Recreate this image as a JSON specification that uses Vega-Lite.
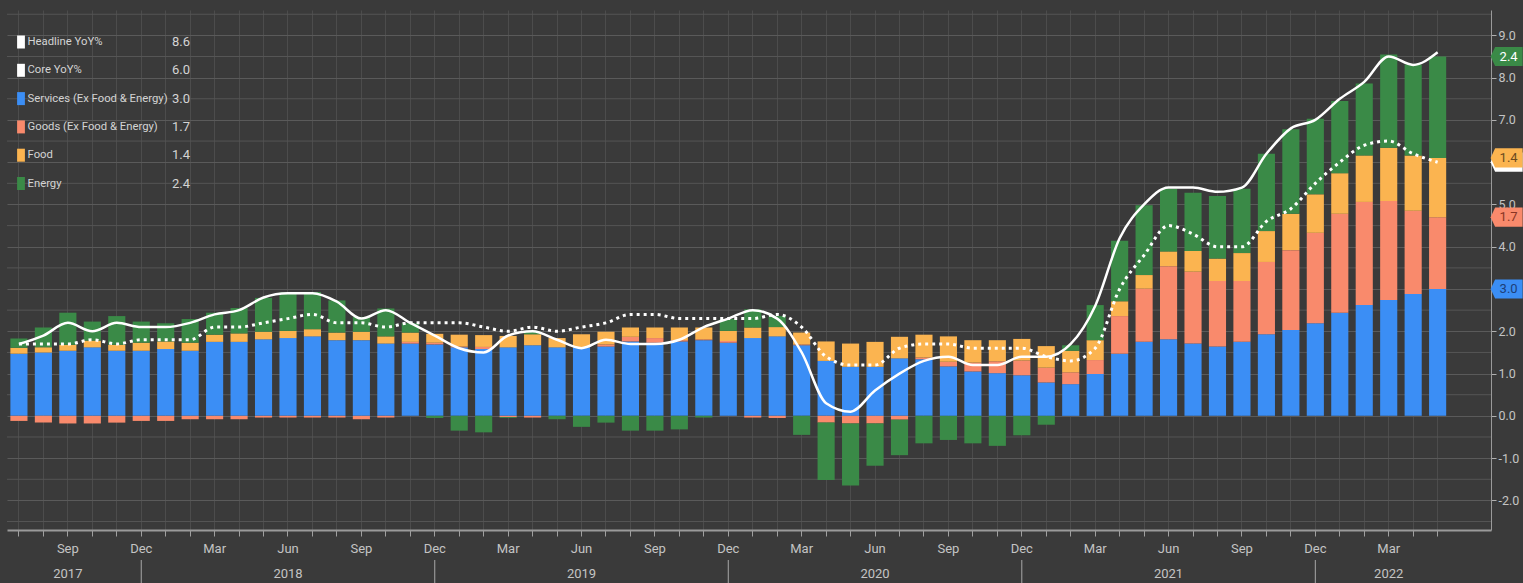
{
  "$schema": "https://vega.github.io/schema/vega-lite/v6.json",
  "width": 1484,
  "height": 520,
  "autosize": {"type": "none"},
  "padding": {"left": 7, "top": 10, "right": 32, "bottom": 53},
  "background": "#3a3a3a",
  "datasets": {
    "cpi": [
      {"m": "2017-07", "Services": 1.47, "Goods": -0.12, "Food": 0.14, "Energy": 0.22, "Headline": 1.7, "Core": 1.7},
      {"m": "2017-08", "Services": 1.50, "Goods": -0.16, "Food": 0.12, "Energy": 0.47, "Headline": 1.9, "Core": 1.7},
      {"m": "2017-09", "Services": 1.54, "Goods": -0.18, "Food": 0.14, "Energy": 0.76, "Headline": 2.2, "Core": 1.7},
      {"m": "2017-10", "Services": 1.62, "Goods": -0.18, "Food": 0.16, "Energy": 0.45, "Headline": 2.0, "Core": 1.8},
      {"m": "2017-11", "Services": 1.54, "Goods": -0.16, "Food": 0.14, "Energy": 0.68, "Headline": 2.2, "Core": 1.7},
      {"m": "2017-12", "Services": 1.54, "Goods": -0.12, "Food": 0.19, "Energy": 0.50, "Headline": 2.1, "Core": 1.8},
      {"m": "2018-01", "Services": 1.58, "Goods": -0.12, "Food": 0.18, "Energy": 0.43, "Headline": 2.1, "Core": 1.8},
      {"m": "2018-02", "Services": 1.54, "Goods": -0.08, "Food": 0.19, "Energy": 0.56, "Headline": 2.2, "Core": 1.8},
      {"m": "2018-03", "Services": 1.75, "Goods": -0.08, "Food": 0.17, "Energy": 0.52, "Headline": 2.4, "Core": 2.1},
      {"m": "2018-04", "Services": 1.75, "Goods": -0.08, "Food": 0.20, "Energy": 0.60, "Headline": 2.5, "Core": 2.1},
      {"m": "2018-05", "Services": 1.81, "Goods": -0.04, "Food": 0.18, "Energy": 0.80, "Headline": 2.8, "Core": 2.2},
      {"m": "2018-06", "Services": 1.84, "Goods": -0.04, "Food": 0.17, "Energy": 0.91, "Headline": 2.9, "Core": 2.3},
      {"m": "2018-07", "Services": 1.88, "Goods": -0.04, "Food": 0.17, "Energy": 0.88, "Headline": 2.9, "Core": 2.4},
      {"m": "2018-08", "Services": 1.79, "Goods": -0.04, "Food": 0.18, "Energy": 0.76, "Headline": 2.7, "Core": 2.2},
      {"m": "2018-09", "Services": 1.79, "Goods": -0.08, "Food": 0.20, "Energy": 0.35, "Headline": 2.3, "Core": 2.2},
      {"m": "2018-10", "Services": 1.71, "Goods": -0.04, "Food": 0.17, "Energy": 0.66, "Headline": 2.5, "Core": 2.1},
      {"m": "2018-11", "Services": 1.71, "Goods": 0.04, "Food": 0.22, "Energy": 0.22, "Headline": 2.2, "Core": 2.2},
      {"m": "2018-12", "Services": 1.69, "Goods": 0.04, "Food": 0.21, "Energy": -0.05, "Headline": 1.9, "Core": 2.2},
      {"m": "2019-01", "Services": 1.62, "Goods": 0.02, "Food": 0.28, "Energy": -0.35, "Headline": 1.6, "Core": 2.2},
      {"m": "2019-02", "Services": 1.58, "Goods": 0.05, "Food": 0.28, "Energy": -0.39, "Headline": 1.5, "Core": 2.1},
      {"m": "2019-03", "Services": 1.62, "Goods": -0.03, "Food": 0.27, "Energy": -0.02, "Headline": 1.9, "Core": 2.0},
      {"m": "2019-04", "Services": 1.67, "Goods": -0.04, "Food": 0.26, "Energy": 0.06, "Headline": 2.0, "Core": 2.1},
      {"m": "2019-05", "Services": 1.62, "Goods": 0.0, "Food": 0.22, "Energy": -0.08, "Headline": 1.8, "Core": 2.0},
      {"m": "2019-06", "Services": 1.62, "Goods": 0.0, "Food": 0.31, "Energy": -0.26, "Headline": 1.6, "Core": 2.1},
      {"m": "2019-07", "Services": 1.64, "Goods": 0.05, "Food": 0.30, "Energy": -0.16, "Headline": 1.8, "Core": 2.2},
      {"m": "2019-08", "Services": 1.76, "Goods": 0.11, "Food": 0.22, "Energy": -0.35, "Headline": 1.7, "Core": 2.4},
      {"m": "2019-09", "Services": 1.73, "Goods": 0.11, "Food": 0.25, "Energy": -0.35, "Headline": 1.7, "Core": 2.4},
      {"m": "2019-10", "Services": 1.76, "Goods": 0.03, "Food": 0.30, "Energy": -0.32, "Headline": 1.8, "Core": 2.3},
      {"m": "2019-11", "Services": 1.79, "Goods": 0.02, "Food": 0.28, "Energy": -0.04, "Headline": 2.1, "Core": 2.3},
      {"m": "2019-12", "Services": 1.73, "Goods": 0.04, "Food": 0.24, "Energy": 0.28, "Headline": 2.3, "Core": 2.3},
      {"m": "2020-01", "Services": 1.84, "Goods": -0.04, "Food": 0.25, "Energy": 0.43, "Headline": 2.5, "Core": 2.3},
      {"m": "2020-02", "Services": 1.88, "Goods": -0.05, "Food": 0.22, "Energy": 0.26, "Headline": 2.3, "Core": 2.4},
      {"m": "2020-03", "Services": 1.67, "Goods": 0.02, "Food": 0.28, "Energy": -0.45, "Headline": 1.5, "Core": 2.1},
      {"m": "2020-04", "Services": 1.30, "Goods": -0.16, "Food": 0.46, "Energy": -1.36, "Headline": 0.3, "Core": 1.4},
      {"m": "2020-05", "Services": 1.16, "Goods": -0.18, "Food": 0.55, "Energy": -1.47, "Headline": 0.1, "Core": 1.2},
      {"m": "2020-06", "Services": 1.16, "Goods": -0.18, "Food": 0.59, "Energy": -1.00, "Headline": 0.6, "Core": 1.2},
      {"m": "2020-07", "Services": 1.36, "Goods": -0.09, "Food": 0.51, "Energy": -0.84, "Headline": 1.0, "Core": 1.6},
      {"m": "2020-08", "Services": 1.34, "Goods": 0.04, "Food": 0.54, "Energy": -0.65, "Headline": 1.3, "Core": 1.7},
      {"m": "2020-09", "Services": 1.17, "Goods": 0.11, "Food": 0.60, "Energy": -0.57, "Headline": 1.4, "Core": 1.7},
      {"m": "2020-10", "Services": 1.05, "Goods": 0.21, "Food": 0.53, "Energy": -0.65, "Headline": 1.2, "Core": 1.6},
      {"m": "2020-11", "Services": 1.01, "Goods": 0.28, "Food": 0.50, "Energy": -0.71, "Headline": 1.2, "Core": 1.6},
      {"m": "2020-12", "Services": 0.96, "Goods": 0.35, "Food": 0.51, "Energy": -0.46, "Headline": 1.4, "Core": 1.6},
      {"m": "2021-01", "Services": 0.79, "Goods": 0.35, "Food": 0.51, "Energy": -0.21, "Headline": 1.4, "Core": 1.4},
      {"m": "2021-02", "Services": 0.75, "Goods": 0.28, "Food": 0.51, "Energy": 0.13, "Headline": 1.7, "Core": 1.3},
      {"m": "2021-03", "Services": 0.99, "Goods": 0.33, "Food": 0.47, "Energy": 0.83, "Headline": 2.6, "Core": 1.6},
      {"m": "2021-04", "Services": 1.47, "Goods": 0.89, "Food": 0.35, "Energy": 1.43, "Headline": 4.2, "Core": 3.0},
      {"m": "2021-05", "Services": 1.75, "Goods": 1.26, "Food": 0.32, "Energy": 1.65, "Headline": 5.0, "Core": 3.8},
      {"m": "2021-06", "Services": 1.81, "Goods": 1.73, "Food": 0.35, "Energy": 1.48, "Headline": 5.4, "Core": 4.5},
      {"m": "2021-07", "Services": 1.71, "Goods": 1.70, "Food": 0.49, "Energy": 1.38, "Headline": 5.4, "Core": 4.3},
      {"m": "2021-08", "Services": 1.64, "Goods": 1.55, "Food": 0.53, "Energy": 1.48, "Headline": 5.3, "Core": 4.0},
      {"m": "2021-09", "Services": 1.75, "Goods": 1.44, "Food": 0.66, "Energy": 1.52, "Headline": 5.4, "Core": 4.0},
      {"m": "2021-10", "Services": 1.93, "Goods": 1.71, "Food": 0.73, "Energy": 1.83, "Headline": 6.2, "Core": 4.6},
      {"m": "2021-11", "Services": 2.03, "Goods": 1.89, "Food": 0.86, "Energy": 2.00, "Headline": 6.8, "Core": 4.9},
      {"m": "2021-12", "Services": 2.19, "Goods": 2.14, "Food": 0.91, "Energy": 1.79, "Headline": 7.0, "Core": 5.5},
      {"m": "2022-01", "Services": 2.44, "Goods": 2.34, "Food": 0.96, "Energy": 1.71, "Headline": 7.5, "Core": 6.0},
      {"m": "2022-02", "Services": 2.62, "Goods": 2.44, "Food": 1.10, "Energy": 1.70, "Headline": 7.9, "Core": 6.4},
      {"m": "2022-03", "Services": 2.74, "Goods": 2.34, "Food": 1.26, "Energy": 2.21, "Headline": 8.5, "Core": 6.5},
      {"m": "2022-04", "Services": 2.88, "Goods": 1.97, "Food": 1.31, "Energy": 2.15, "Headline": 8.3, "Core": 6.2},
      {"m": "2022-05", "Services": 3.0, "Goods": 1.7, "Food": 1.4, "Energy": 2.4, "Headline": 8.6, "Core": 6.0}
    ],
    "halfgrid": [
      {"g": -2.5}, {"g": -1.5}, {"g": -0.5}, {"g": 0.5}, {"g": 1.5}, {"g": 2.5}, {"g": 3.5},
      {"g": 4.5}, {"g": 5.5}, {"g": 6.5}, {"g": 7.5}, {"g": 8.5}, {"g": 9.5}
    ]
  },
  "layer": [
    {
      "data": {"name": "halfgrid"},
      "mark": {"type": "rule", "color": "#555555", "strokeWidth": 1},
      "encoding": {"y": {"field": "g", "type": "quantitative", "title": null}}
    },
    {
      "data": {"name": "cpi"},
      "encoding": {
        "x": {
          "field": "m",
          "type": "ordinal",
          "title": null,
          "scale": {"paddingInner": 0.3, "paddingOuter": 0.985, "align": 0.07, "round": false},
          "axis": {
            "grid": true,
            "gridColor": "#4c4c4c",
            "gridWidth": 1,
            "tickSize": 6,
            "tickColor": "#a0a0a0",
            "domainColor": "#9a9a9a",
            "domainWidth": 2,
            "labelAngle": 0,
            "labelPadding": 6,
            "labelFontSize": 13,
            "labelLineHeight": 25,
            "labelColor": "#c4c4c4",
            "labelOverlap": false,
            "labelExpr": "indexof(['2017-09','2018-06','2019-06','2020-06','2021-06','2022-03'], datum.value) >= 0 ? [['','Jan','Feb','Mar','Apr','May','Jun','Jul','Aug','Sep','Oct','Nov','Dec'][toNumber(substring(datum.value,5,7))], substring(datum.value,0,4)] : (toNumber(substring(datum.value,5,7)) % 3 == 0 ? ['','Jan','Feb','Mar','Apr','May','Jun','Jul','Aug','Sep','Oct','Nov','Dec'][toNumber(substring(datum.value,5,7))] : '')"
          }
        }
      },
      "layer": [
        {
          "transform": [{"fold": ["Services", "Goods", "Food", "Energy"], "as": ["key", "v"]}],
          "mark": {"type": "bar"},
          "encoding": {
            "y": {
              "field": "v",
              "type": "quantitative",
              "stack": "zero",
              "title": null,
              "scale": {"domain": [-2.7, 9.6], "nice": false, "zero": false},
              "axis": {
                "orient": "right",
                "values": [-2, -1, 0, 1, 2, 3, 4, 5, 6, 7, 8, 9],
                "format": ".1f",
                "grid": true,
                "gridColor": "#5a5a5a",
                "tickSize": 5,
                "tickColor": "#b0b0b0",
                "domainColor": "#9a9a9a",
                "labelPadding": 2,
                "labelFontSize": 12.5,
                "labelColor": "#c4c4c4"
              }
            },
            "color": {
              "field": "key",
              "type": "nominal",
              "scale": {
                "domain": ["Headline YoY%", "Core YoY%", "Services", "Goods", "Food", "Energy"],
                "range": ["#ffffff", "#ffffff", "#3b8ef5", "#f98a6c", "#fbb450", "#3a8a47"]
              },
              "legend": {
                "orient": "none",
                "legendX": 7.5,
                "legendY": 25.5,
                "title": null,
                "padding": 0,
                "rowPadding": 15.3,
                "symbolType": "M -0.6 -1 L 0.6 -1 L 0.6 1 L -0.6 1 Z",
                "symbolSize": 169,
                "symbolStrokeWidth": 0,
                "labelOffset": 0,
                "labelFontSize": 11.3,
                "labelColor": "#d4d4d4",
                "labelLimit": 300,
                "labelExpr": "datum.label == 'Services' ? 'Services (Ex Food & Energy)' : datum.label == 'Goods' ? 'Goods (Ex Food & Energy)' : datum.label"
              }
            },
            "opacity": {
              "field": "key",
              "type": "nominal",
              "scale": {"domain": ["Headline YoY%", "Core YoY%", "Services", "Goods", "Food", "Energy", "~"], "range": [1, 1]},
              "legend": {
                "orient": "none",
                "legendX": 152,
                "legendY": 25.5,
                "title": null,
                "padding": 0,
                "rowPadding": 14.3,
                "symbolSize": 0,
                "symbolStrokeWidth": 0,
                "labelOffset": 0,
                "labelFontSize": 13,
                "labelColor": "#d4d4d4",
                "labelExpr": "datum.label == 'Headline YoY%' ? '8.6' : datum.label == 'Core YoY%' ? '6.0' : datum.label == 'Services' ? '3.0' : datum.label == 'Goods' ? '1.7' : datum.label == 'Food' ? '1.4' : datum.label == 'Energy' ? '2.4' : ''"
              }
            },
            "order": {"field": "key", "sort": "descending"}
          }
        },
        {
          "transform": [{"filter": "substring(datum.m,5,7) == '12'"}],
          "mark": {"type": "rule", "color": "#a8a8a8", "strokeWidth": 1, "yOffset": 30, "y2Offset": 56},
          "encoding": {
            "y": {"datum": -2.7, "type": "quantitative"},
            "y2": {"datum": -2.7}
          }
        },
        {
          "mark": {"type": "line", "color": "#ffffff", "strokeWidth": 2.5, "interpolate": "monotone"},
          "encoding": {"y": {"field": "Headline", "type": "quantitative", "title": null}}
        },
        {
          "mark": {"type": "line", "color": "#ffffff", "strokeWidth": 3, "strokeDash": [3, 4], "interpolate": "monotone"},
          "encoding": {"y": {"field": "Core", "type": "quantitative", "title": null}}
        },
        {
          "transform": [{"filter": "datum.m == '2022-05'"}],
          "mark": {"type": "point", "shape": "M -1 0 L -0.72 -0.6 L 1 -0.6 L 1 0.6 L -0.72 0.6 Z", "size": 1024, "filled": true, "color": "#ffffff", "opacity": 1, "strokeWidth": 0, "xOffset": 69},
          "encoding": {"y": {"field": "Core", "type": "quantitative", "title": null}}
        },
        {
          "transform": [{"filter": "datum.m == '2022-05'"}, {"fold": ["Services", "Goods", "Food", "Energy"], "as": ["key", "v"]}],
          "mark": {"type": "point", "shape": "M -1 0 L -0.72 -0.6 L 1 -0.6 L 1 0.6 L -0.72 0.6 Z", "size": 1024, "filled": true, "opacity": 1, "strokeWidth": 0, "xOffset": 69},
          "encoding": {
            "y": {"field": "v", "type": "quantitative", "stack": "zero", "title": null},
            "color": {"field": "key", "type": "nominal"},
            "order": {"field": "key", "sort": "descending"}
          }
        },
        {
          "transform": [{"filter": "datum.m == '2022-05'"}, {"fold": ["Services", "Goods", "Food", "Energy"], "as": ["key", "v"]}],
          "mark": {"type": "text", "xOffset": 71, "fontSize": 13, "align": "center", "baseline": "middle"},
          "encoding": {
            "y": {"field": "v", "type": "quantitative", "stack": "zero", "title": null},
            "text": {"field": "v", "type": "quantitative", "format": ".1f"},
            "color": {
              "condition": [
                {"test": "datum.key == 'Energy'", "value": "#ffffff"},
                {"test": "datum.key == 'Food'", "value": "#6b4a1e"},
                {"test": "datum.key == 'Goods'", "value": "#8a3524"}
              ],
              "value": "#1d3f78"
            },
            "order": {"field": "key", "sort": "descending"}
          }
        }
      ]
    }
  ],
  "config": {
    "font": "Roboto",
    "locale": {"number": {"decimal": ".", "thousands": ",", "grouping": [3], "currency": ["$", ""], "minus": "-"}},
    "view": {"stroke": null},
    "axis": {"labelFont": "Roboto"},
    "legend": {"labelFont": "Roboto"},
    "text": {"font": "Roboto"}
  }
}
